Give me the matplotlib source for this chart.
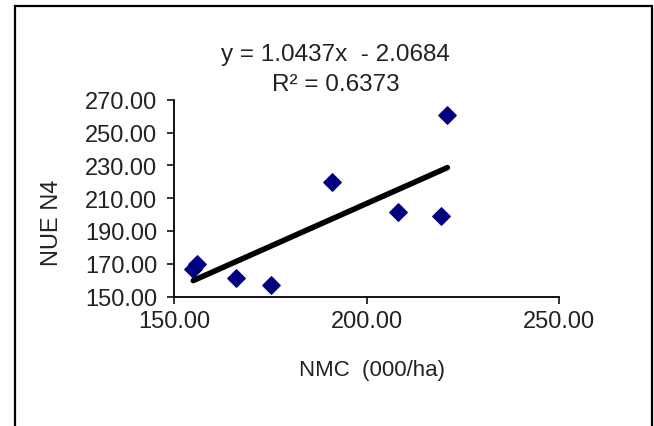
"""
NUE N4 against NMC scatter with linear trend line
"""
import numpy as np
import matplotlib
matplotlib.use("Agg")
import matplotlib.pyplot as plt
from matplotlib.patches import Rectangle

# data
nmc = [155.0, 155.9, 166.1, 175.2, 191.1, 208.3, 219.3, 221.0]  # [000/ha]
nue_n4 = [167.0, 170.1, 161.4, 156.9, 220.1, 201.5, 199.1, 260.7]

# trend line as printed on the chart
slope = 1.0437
intercept = -2.0684
r_squared = 0.6373

x_ticks = [150, 200, 250]
y_ticks = [150, 170, 190, 210, 230, 250, 270]


def main():
    plt.rcParams["font.family"] = ["Liberation Sans", "DejaVu Sans"]
    W, H = 654, 427
    fig = plt.figure(figsize=(W / 100, H / 100), dpi=100)

    # frame around the whole chart
    fig.patches.append(Rectangle((15 / W, -0.05), 637 / W, 1.05 - 7 / H,
                                 transform=fig.transFigure, fill=False,
                                 edgecolor="black", linewidth=1.6))

    ax = fig.add_axes([174 / W, (H - 297.5) / H, (559 - 174) / W, (297.5 - 100.7) / H])

    ax.scatter(nmc, nue_n4, marker="D", s=78, color="#000080", zorder=3)

    xfit = np.array([min(nmc), max(nmc)])
    ax.plot(xfit, slope * xfit + intercept, color="black", lw=4,
            solid_capstyle="round", zorder=2)

    ax.set_xlim(150, 250)
    ax.set_ylim(150, 270)
    ax.set_xticks(x_ticks)
    ax.set_yticks(y_ticks)
    ax.set_xticklabels([f"{v:.2f}" for v in x_ticks])
    ax.set_yticklabels([f"{v:.2f}" for v in y_ticks])
    for side in ("top", "right"):
        ax.spines[side].set_visible(False)
    for side in ("left", "bottom"):
        ax.spines[side].set_linewidth(1.3)
    ax.tick_params(axis="both", direction="out", length=5, width=1.3,
                   labelsize=17, colors="#222222")
    ax.tick_params(axis="y", pad=7)
    ax.tick_params(axis="x", pad=5)

    fig.text(52.5 / W, 1 - 223 / H, "NUE N4", rotation=90, fontsize=17,
             ha="center", va="center", color="#222222")
    fig.text(372 / W, 1 - 371 / H, "NMC  (000/ha)", fontsize=16,
             ha="center", va="center", color="#222222")
    fig.text(335 / W, 1 - 55 / H, f"y = {slope}x  - {abs(intercept)}",
             fontsize=17.5, ha="center", va="center", color="#222222")
    fig.text(336 / W, 1 - 85 / H, f"R\u00b2 = {r_squared}",
             fontsize=17.5, ha="center", va="center", color="#222222")

    fig.savefig("out.png", dpi=100)


if __name__ == "__main__":
    main()
